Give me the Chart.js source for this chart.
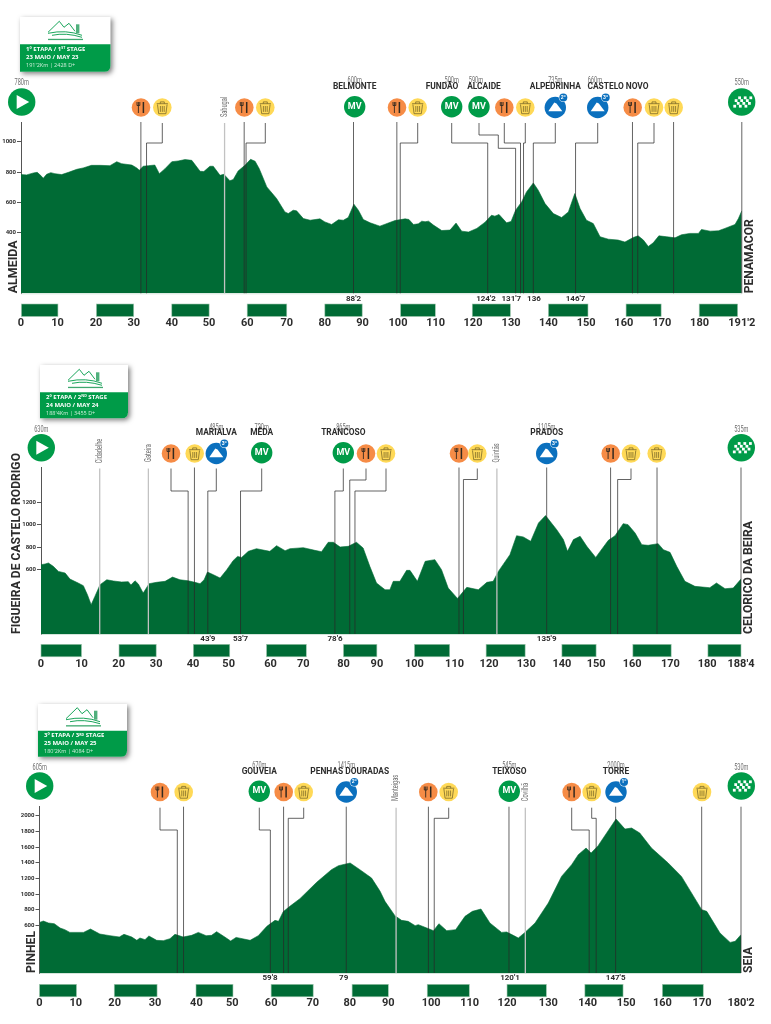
<!DOCTYPE html>
<html>
<head>
<meta charset="utf-8">
<title>Stage profiles</title>
<script src="https://cdn.jsdelivr.net/npm/chart.js@4"></script>
<style>
  html, body { margin: 0; padding: 0; background: #fff; }
  #page { position: relative; width: 771px; height: 1024px; overflow: hidden; }
  canvas { position: absolute; left: 0; }
</style>
</head>
<body>
<div id="page">
  <canvas id="stage1" width="771" height="340" style="top:0"></canvas>
  <canvas id="stage2" width="771" height="340" style="top:340px"></canvas>
  <canvas id="stage3" width="771" height="344" style="top:680px"></canvas>
</div>
<script>
// Stage 1 - Almeida to Penamacor
const stage1Km = [0, 1.5, 3.3, 4.3, 5.2, 5.9, 6.8, 7.9, 9, 10.8, 12.6, 14.8, 16.5, 18.7, 21, 23.6, 25.4, 26.7, 29.4, 30.7, 31.4, 32.4, 33.8, 35.5, 36.7, 38.2, 40, 41.7, 43.5, 45.3, 47.5, 48.5, 50.1, 51, 52.8, 53.8, 55.4, 56.3, 57.6, 59.4, 60.9, 62.1, 63.2, 65.2, 67.8, 70, 70.9, 72.2, 73.1, 74.9, 76.7, 79.3, 80.6, 82.4, 84.2, 85.5, 86.8, 88.3, 89.5, 90.8, 92.6, 95.2, 96.6, 99.2, 101.9, 102.9, 104.1, 105.4, 106.3, 107.2, 108.1, 109.4, 111.6, 113.8, 115.4, 116.9, 118.7, 120.9, 123.1, 124.8, 125.7, 126.8, 128.8, 130, 131.2, 132.8, 134.1, 135.9, 137.2, 139, 141.2, 143.4, 145.2, 146.9, 148.3, 150, 151.8, 153.6, 155.8, 158.4, 160.2, 162.4, 163.7, 165.1, 166.4, 167.7, 169.2, 171.3, 173.5, 175.2, 177.4, 179.7, 180.5, 182.8, 185, 186.7, 189.4, 190.3, 191.2];
const stage1Elevation = [783, 781, 794, 798, 778, 759, 785, 796, 789, 783, 798, 818, 827, 844, 844, 842, 868, 855, 846, 827, 811, 838, 842, 846, 789, 822, 868, 873, 882, 877, 805, 803, 838, 838, 778, 785, 743, 750, 807, 844, 884, 871, 822, 702, 625, 537, 526, 548, 544, 493, 482, 491, 471, 454, 485, 482, 500, 588, 548, 487, 465, 443, 456, 480, 491, 487, 454, 458, 476, 472, 476, 450, 414, 417, 463, 410, 404, 428, 469, 515, 509, 520, 465, 474, 548, 603, 669, 728, 680, 592, 526, 500, 537, 658, 559, 482, 460, 373, 357, 351, 338, 368, 379, 351, 309, 333, 379, 373, 366, 386, 395, 395, 421, 410, 412, 428, 454, 493, 544];
const stage1ElevTicks = [400, 600, 800, 1000];
const stage1TickAt = [0, 9.7, 19.9, 29.9, 40, 49.9, 60, 70.5, 80.6, 90.6, 100, 110, 119.9, 130, 139.9, 149.9, 159.9, 170, 180, 191.2];
const stage1TickLabels = ['0', '10', '20', '30', '40', '50', '60', '70', '80', '90', '100', '110', '120', '130', '140', '150', '160', '170', '180', "191'2"];
const stage1BarFrom = [0.1, 20, 40, 60, 80.6, 100.7, 119.7, 139.9, 160.5, 179.9];
const stage1BarTo = [9.8, 29.9, 49.9, 70.5, 90.5, 109.9, 129.8, 150.4, 169.8, 190.1];
const stage1StopKm = [0, 31.8, 33.3, 54, 59.2, 59.7, 88.2, 99.7, 100.6, 123.8, 131.2, 132.5, 133.3, 135.9, 147.1, 162.2, 163.6, 173.1, 191.2];
const stage1StopType = ['start', 'food', 'trash', 'town', 'food', 'trash', 'mv', 'food', 'trash', 'mv', 'mv', 'food', 'trash', 'climb', 'climb', 'food', 'trash', 'trash', 'finish'];
const stage1StopName = ['', '', '', 'Sabugal', '', '', 'BELMONTE', '', '', 'FUNDÃO', 'ALCAIDE', '', '', 'ALPEDRINHA', 'CASTELO NOVO', '', '', '', ''];
const stage1StopAlt = ['780m', '', '', '', '', '', '600m', '', '', '500m', '590m', '', '', '735m', '660m', '', '', '', '550m'];
const stage1StopMark = ['', '', '', '', '', '', "88'2", '', '', "124'2", "131'7", '', '', '136', "146'7", '', '', '', ''];
const stage1StopBadge = ['', '', '', '', '', '', '', '', '', '', '', '', '', '2º', '3º', '', '', '', ''];
const stage1Card = ['1º ETAPA / 1', 'ST', ' STAGE', '23 MAIO / MAY 23', "191'2Km | 2428 D+"];

// Stage 2 - Figueira de Castelo Rodrigo to Celorico da Beira
const stage2Km = [0, 1.1, 2, 3.3, 4.7, 6.5, 7.8, 10, 11.4, 12.5, 13.5, 14.5, 15.9, 17.7, 19.5, 21.7, 23.5, 24.2, 25.3, 26.2, 27.5, 29.1, 31.1, 33.4, 35.4, 37.4, 39.6, 41.4, 42.8, 43.9, 44.8, 46.4, 48.2, 50, 51.7, 52.9, 54, 55.8, 58, 61.6, 63.4, 65.7, 67, 70.6, 73.7, 75.5, 77.3, 78.7, 80.5, 82.7, 84.9, 86.7, 88.5, 90.3, 92.6, 93.9, 94.8, 96.6, 98.4, 99.3, 101.3, 103.4, 106, 107.8, 109.6, 112.1, 114.6, 117.7, 120, 121.7, 123.1, 126.2, 128, 129.8, 131.8, 133.9, 135.8, 138.8, 140.6, 141.7, 143.3, 145.1, 146.9, 149.3, 152.7, 154.5, 156.7, 158, 159.9, 161.7, 163.4, 166.1, 167.5, 169.3, 171.1, 173.3, 176, 180, 181.8, 184.1, 186.3, 188.4];
const stage2Elevation = [645, 651, 660, 630, 585, 570, 516, 481, 457, 376, 287, 361, 466, 510, 499, 490, 493, 463, 501, 472, 391, 475, 487, 496, 534, 510, 501, 487, 475, 510, 579, 555, 525, 600, 681, 719, 710, 764, 788, 764, 815, 770, 788, 797, 773, 761, 845, 845, 803, 809, 845, 794, 630, 481, 421, 421, 496, 496, 594, 594, 496, 675, 690, 600, 436, 343, 442, 421, 487, 496, 585, 734, 904, 893, 854, 1018, 1084, 958, 869, 764, 869, 899, 809, 710, 863, 904, 1012, 1003, 928, 824, 818, 833, 779, 755, 630, 496, 451, 439, 481, 430, 436, 516];
const stage2ElevTicks = [600, 800, 1000, 1200];
const stage2TickAt = [0, 10.9, 20.9, 31, 40.9, 50.5, 61.8, 70.6, 81.4, 90.4, 100.5, 111.3, 120.6, 130.6, 140.2, 149.4, 159.1, 169.4, 179.3, 188.4];
const stage2TickLabels = ['0', '10', '20', '30', '40', '50', '60', '70', '80', '90', '100', '110', '120', '130', '140', '150', '160', '170', '180', "188'4"];
const stage2BarFrom = [0, 21, 41, 60.7, 81.4, 100.5, 119.8, 140.2, 159.3, 179.5];
const stage2BarTo = [10.9, 31, 50.8, 71.4, 90.4, 110, 130.3, 149.4, 169.6, 188.4];
const stage2StopKm = [0, 15.8, 28.9, 39.6, 41.3, 44.9, 53.7, 79.1, 83.1, 84.5, 112.5, 113.7, 122.7, 136.1, 153.3, 155.2, 165.8, 188.4];
const stage2StopType = ['start', 'town', 'town', 'food', 'trash', 'climb', 'mv', 'mv', 'food', 'trash', 'food', 'trash', 'town', 'climb', 'food', 'trash', 'trash', 'finish'];
const stage2StopName = ['', 'Cidadelhe', 'Gateira', '', '', 'MARIALVA', 'MÊDA', 'TRANCOSO', '', '', '', '', 'Quintãs', 'PRADOS', '', '', '', ''];
const stage2StopAlt = ['630m', '', '', '', '', '485m', '720m', '865m', '', '', '', '', '', '1105m', '', '', '', '535m'];
const stage2StopMark = ['', '', '', '', '', "43'9", "53'7", "78'6", '', '', '', '', '', "135'9", '', '', '', ''];
const stage2StopBadge = ['', '', '', '', '', '3º', '', '', '', '', '', '', '', '3º', '', '', '', ''];
const stage2Card = ['2º ETAPA / 2', 'ND', ' STAGE', '24 MAIO / MAY 24', "188'4Km | 3455 D+"];

// Stage 3 - Pinhel to Seia
const stage3Km = [0, 1, 2.3, 3.8, 5.3, 6.5, 7.8, 11.3, 13.1, 15.5, 18.1, 20.5, 21.7, 23.7, 25, 25.8, 27.1, 28.1, 30.1, 31.8, 33.5, 34.8, 36.9, 39.1, 40.8, 42.8, 44.2, 45.5, 47.6, 49.1, 50.5, 54.1, 56.2, 58.4, 60.5, 61.4, 62.6, 64.3, 66.9, 71.2, 75, 76.8, 79.8, 82.3, 85.3, 87.5, 88.75, 91.3, 93, 94.7, 96.5, 97.3, 99.5, 101.2, 102.6, 104.6, 106.9, 109.3, 111.2, 113.4, 115.7, 118.7, 120, 121.7, 123, 124.7, 127.3, 130.7, 134.1, 136.7, 138.4, 140.4, 141.7, 143.5, 148.1, 150.4, 152.1, 154.2, 157.2, 161.5, 164.9, 170.1, 171.4, 174.8, 177.4, 178.7, 180.2];
const stage3Elevation = [638, 655, 630, 621, 566, 545, 510, 510, 553, 489, 468, 451, 485, 451, 408, 438, 417, 464, 408, 404, 429, 485, 451, 472, 510, 468, 472, 519, 451, 400, 446, 408, 468, 587, 664, 651, 775, 843, 942, 1151, 1313, 1364, 1398, 1313, 1206, 1035, 907, 724, 664, 651, 596, 609, 566, 532, 621, 532, 545, 715, 779, 809, 630, 510, 515, 472, 438, 510, 630, 886, 1227, 1377, 1505, 1590, 1526, 1620, 1961, 1833, 1846, 1782, 1590, 1398, 1227, 801, 779, 502, 382, 395, 481];
const stage3ElevTicks = [600, 800, 1000, 1200, 1400, 1600, 1800, 2000];
const stage3TickAt = [0, 9.3, 19.3, 29.7, 40.3, 49.5, 59.5, 70.2, 79.7, 89.6, 100.6, 110.5, 120.1, 130.7, 140.8, 150.7, 160, 170.2, 180.2];
const stage3TickLabels = ['0', '10', '20', '30', '40', '50', '60', '70', '80', '90', '100', '110', '120', '130', '140', '150', '160', '170', "180'2"];
const stage3BarFrom = [0, 19.2, 40.2, 59.5, 80.3, 99.6, 120.1, 140.1, 160];
const stage3BarTo = [9.5, 30.2, 49.7, 70.3, 89.6, 110.4, 130.2, 149.9, 170.5];
const stage3StopKm = [0, 35.4, 37, 59.3, 62.7, 63.9, 78.8, 91.6, 99.9, 101.4, 120.6, 124.8, 141.2, 143, 148, 170.1, 180.2];
const stage3StopType = ['start', 'food', 'trash', 'mv', 'food', 'trash', 'climb', 'town', 'food', 'trash', 'mv', 'town', 'food', 'trash', 'climb', 'trash', 'finish'];
const stage3StopName = ['', '', '', 'GOUVEIA', '', '', 'PENHAS DOURADAS', 'Manteigas', '', '', 'TEIXOSO', 'Covilhã', '', '', 'TORRE', '', ''];
const stage3StopAlt = ['605m', '', '', '670m', '', '', '1415m', '', '', '', '545m', '', '', '', '2000m', '', '530m'];
const stage3StopMark = ['', '', '', "59'8", '', '', '79', '', '', '', "120'1", '', '', '', "147'5", '', ''];
const stage3StopBadge = ['', '', '', '', '', '', '2º', '', '', '', '', '', '', '', '1º', '', ''];
const stage3Card = ['3º ETAPA / 3', 'RD', ' STAGE', '25 MAIO / MAY 25', "180'2Km | 4084 D+"];

// Where the icons and leader lines sit on the page (px), same order as the stops.
// route is [y] for one elbow, or [y, x, y2] when the line steps twice
const stage1Layout = [
  { x: 21.7 }, { x: 141 }, { x: 162.3, route: [143] }, { x: 224.5, textY: 107 }, { x: 244.3 },
  { x: 265.3, route: [143] }, { x: 354.7 }, { x: 397 }, { x: 417.7, route: [143] },
  { x: 451.7, route: [143], nameX: 442, markX: 486 }, { x: 479, route: [135, 498.3, 148.3], nameX: 484, altX: 476, markX: 511.3 },
  { x: 504.3, route: [143] }, { x: 525.3, route: [143] }, { x: 555.3, route: [143], markX: 534 },
  { x: 597.7, route: [143], nameX: 618, altX: 595 }, { x: 632.7 }, { x: 654, route: [143] }, { x: 673.7 }, { x: 741.7 }
];
const stage2Layout = [
  { x: 41.3 }, { x: 99.7, textY: 451 }, { x: 148.3, textY: 453 }, { x: 171, route: [491] }, { x: 194.7 },
  { x: 216.3, route: [491] }, { x: 261.7, route: [491] }, { x: 343.3, route: [491], markX: 335 },
  { x: 366, route: [480] }, { x: 386, route: [491] }, { x: 459 }, { x: 477.3, route: [479.5] },
  { x: 496.7, textY: 453 }, { x: 546.7 }, { x: 610.7 }, { x: 631, route: [479.5] }, { x: 656.7 }, { x: 741.3 }
];
const stage3Layout = [
  { x: 39.7 }, { x: 160, route: [830] }, { x: 183.7 }, { x: 259.3, route: [830], markX: 270 }, { x: 283.7 },
  { x: 303.7, route: [818.3] }, { x: 346.3, nameX: 349.7, markX: 343.7 }, { x: 396, textY: 788 }, { x: 428.3 },
  { x: 448.7, route: [818.3] }, { x: 509.3, markX: 510 }, { x: 525.3, textY: 792 }, { x: 571.7, route: [830] },
  { x: 591.7, route: [818.3] }, { x: 616 }, { x: 702 }, { x: 741.3 }
];

const stages = [
  {
    id: 'stage1', top: 0, left: 21, right: 741.8, base: 293.3, lineY: 122, yMin: 0, yMax: 1130,
    km: stage1Km, elevation: stage1Elevation, elevTicks: stage1ElevTicks, tickAt: stage1TickAt, tickLabels: stage1TickLabels,
    barFrom: stage1BarFrom, barTo: stage1BarTo, stopKm: stage1StopKm, stopType: stage1StopType, stopName: stage1StopName,
    stopAlt: stage1StopAlt, stopMark: stage1StopMark, stopBadge: stage1StopBadge, layout: stage1Layout, cardText: stage1Card,
    iconY: 107.5, startY: 102, nameY: 87, altY: 80.5, markY: 298.5, barY: 304,
    card: { x: 20, y: 17, w: 90.5, split: 44.3, bottom: 71.7 },
    from: { text: 'ALMEIDA', x: 13.5, len: 53 }, to: { text: 'PENAMACOR', x: 749.5, len: 74 }
  },
  {
    id: 'stage2', top: 340, left: 41, right: 741, base: 634, lineY: 467.5, yMin: 25, yMax: 1514,
    km: stage2Km, elevation: stage2Elevation, elevTicks: stage2ElevTicks, tickAt: stage2TickAt, tickLabels: stage2TickLabels,
    barFrom: stage2BarFrom, barTo: stage2BarTo, stopKm: stage2StopKm, stopType: stage2StopType, stopName: stage2StopName,
    stopAlt: stage2StopAlt, stopMark: stage2StopMark, stopBadge: stage2StopBadge, layout: stage2Layout, cardText: stage2Card,
    iconY: 453.5, startY: 447.7, nameY: 433.3, altY: 427.5, markY: 639, barY: 644.3,
    card: { x: 40, y: 365, w: 88, split: 392.3, bottom: 418.3 },
    from: { text: 'FIGUEIRA DE CASTELO RODRIGO', x: 17, len: 181 }, to: { text: 'CELORICO DA BEIRA', x: 749, len: 113 }
  },
  {
    id: 'stage3', top: 680, left: 39.5, right: 741, base: 973, lineY: 806.7, yMin: -10, yMax: 2119,
    km: stage3Km, elevation: stage3Elevation, elevTicks: stage3ElevTicks, tickAt: stage3TickAt, tickLabels: stage3TickLabels,
    barFrom: stage3BarFrom, barTo: stage3BarTo, stopKm: stage3StopKm, stopType: stage3StopType, stopName: stage3StopName,
    stopAlt: stage3StopAlt, stopMark: stage3StopMark, stopBadge: stage3StopBadge, layout: stage3Layout, cardText: stage3Card,
    iconY: 792, startY: 786, nameY: 772, altY: 765.7, markY: 978.3, barY: 984.3,
    card: { x: 38, y: 704, w: 89, split: 730.7, bottom: 756.7 },
    from: { text: 'PINHEL', x: 31.7, len: 42 }, to: { text: 'SEIA', x: 749.3, len: 26 }
  }
];

const GREEN_DARK = '#006b35';
const GREEN = '#009b48';
const INK = '#2d2d2d';

function centerText(ctx, text, x, y, font, color) {
  ctx.font = font;
  ctx.fillStyle = color;
  ctx.textAlign = 'center';
  ctx.textBaseline = 'middle';
  ctx.fillText(text, x, y);
}

// Thin squeezed grey text used for altitudes and small towns
function narrowText(ctx, text, x, y, rotated) {
  ctx.save();
  ctx.translate(x, y);
  if (rotated) ctx.rotate(-Math.PI / 2);
  ctx.scale(0.62, 1);
  centerText(ctx, text, 0, 0, '9px Roboto, sans-serif', '#6e6e6e');
  ctx.restore();
}

// Place names on both sides, stretched to the length they have in the poster
function sideLabel(ctx, label, base) {
  ctx.save();
  ctx.translate(label.x, base);
  ctx.rotate(-Math.PI / 2);
  ctx.font = 'bold 12.5px Roboto, sans-serif';
  ctx.scale(label.len / ctx.measureText(label.text).width, 1);
  ctx.fillStyle = INK;
  ctx.textAlign = 'left';
  ctx.textBaseline = 'middle';
  ctx.fillText(label.text, 0, 0);
  ctx.restore();
}

function disc(ctx, x, y, r, color) {
  ctx.beginPath();
  ctx.arc(x, y, r, 0, Math.PI * 2);
  ctx.fillStyle = color;
  ctx.fill();
}

function drawFood(ctx, x, y) {
  disc(ctx, x, y, 9.3, '#f68c46');
  ctx.strokeStyle = '#33291f';
  ctx.lineWidth = 0.9;
  ctx.beginPath();
  ctx.moveTo(x - 2.6, y - 5.5);
  ctx.lineTo(x - 2.6, y + 5.5);
  ctx.moveTo(x - 4, y - 5.5);
  ctx.lineTo(x - 4, y - 2);
  ctx.lineTo(x - 1.2, y - 2);
  ctx.lineTo(x - 1.2, y - 5.5);
  ctx.stroke();
  ctx.lineWidth = 1.5;
  ctx.beginPath();
  ctx.moveTo(x + 2.4, y - 5.5);
  ctx.lineTo(x + 2.4, y + 5.5);
  ctx.stroke();
}

function drawTrash(ctx, x, y) {
  disc(ctx, x, y, 9.3, '#ffd957');
  ctx.strokeStyle = '#7c6a28';
  ctx.lineWidth = 0.8;
  ctx.beginPath();
  ctx.moveTo(x - 5.6, y - 3.8);
  ctx.lineTo(x + 5.6, y - 3.8);
  ctx.moveTo(x - 2, y - 3.8);
  ctx.lineTo(x - 2, y - 5.6);
  ctx.lineTo(x + 2, y - 5.6);
  ctx.lineTo(x + 2, y - 3.8);
  ctx.moveTo(x - 4.8, y - 3);
  ctx.lineTo(x - 3.6, y + 6.2);
  ctx.lineTo(x + 3.6, y + 6.2);
  ctx.lineTo(x + 4.8, y - 3);
  for (const dx of [-1.9, 0, 1.9]) {
    ctx.moveTo(x + dx, y - 1.5);
    ctx.lineTo(x + dx, y + 4.4);
  }
  ctx.stroke();
}

function drawClimb(ctx, x, y, badge) {
  disc(ctx, x, y, 10.7, '#0b70be');
  ctx.fillStyle = '#fff';
  ctx.beginPath();
  ctx.moveTo(x - 7, y + 3.8);
  ctx.lineTo(x - 1, y - 5);
  ctx.lineTo(x + 1.2, y - 4);
  ctx.lineTo(x + 7, y + 3.8);
  ctx.closePath();
  ctx.fill();
  disc(ctx, x + 8, y - 10, 4.6, '#fff');
  disc(ctx, x + 8, y - 10, 4, '#0b70be');
  centerText(ctx, badge, x + 8, y - 9.8, 'bold 5px Roboto, sans-serif', '#fff');
}

function drawFinish(ctx, x, y) {
  disc(ctx, x, y, 13.7, GREEN);
  ctx.fillStyle = '#fff';
  for (let row = 0; row < 4; row++) {
    for (let col = 0; col < 6; col++) {
      if ((row + col) % 2 === 0) continue;
      ctx.fillRect(x - 8.4 + col * 2.8 + (3 - row) * 0.7, y - 5.6 + row * 2.8, 2.8, 2.8);
    }
  }
}

function drawStart(ctx, x, y) {
  disc(ctx, x, y, 13.7, GREEN);
  ctx.fillStyle = '#fff';
  ctx.beginPath();
  ctx.moveTo(x - 5, y - 7);
  ctx.lineTo(x + 7.5, y);
  ctx.lineTo(x - 5, y + 7);
  ctx.closePath();
  ctx.fill();
}

// Card with the small race logo and the stage summary
function drawCard(ctx, stage) {
  const c = stage.card;
  const t = stage.cardText;
  const right = c.x + c.w;
  ctx.save();
  ctx.shadowColor = 'rgba(0,0,0,0.5)';
  ctx.shadowBlur = 5;
  ctx.shadowOffsetX = 2;
  ctx.shadowOffsetY = 2;
  ctx.fillStyle = '#fff';
  ctx.beginPath();
  ctx.moveTo(c.x, c.y);
  ctx.lineTo(right, c.y);
  ctx.lineTo(right, c.bottom - 6);
  ctx.quadraticCurveTo(right, c.bottom, right - 6, c.bottom);
  ctx.lineTo(c.x, c.bottom);
  ctx.closePath();
  ctx.fill();
  ctx.restore();
  ctx.fillStyle = GREEN;
  ctx.beginPath();
  ctx.moveTo(c.x, c.split);
  ctx.lineTo(right, c.split);
  ctx.lineTo(right, c.bottom - 6);
  ctx.quadraticCurveTo(right, c.bottom, right - 6, c.bottom);
  ctx.lineTo(c.x, c.bottom);
  ctx.closePath();
  ctx.fill();

  // logo
  const lx = c.x + 28;
  const ly = c.split - 24;
  ctx.strokeStyle = GREEN;
  ctx.lineWidth = 0.9;
  ctx.beginPath();
  ctx.moveTo(lx, ly + 12);
  ctx.lineTo(lx + 11.3, ly + 1);
  ctx.lineTo(lx + 16, ly + 7);
  ctx.lineTo(lx + 21, ly + 3);
  ctx.lineTo(lx + 27, ly + 11);
  ctx.moveTo(lx, ly + 13);
  ctx.quadraticCurveTo(lx + 18, ly + 9, lx + 34, ly + 15);
  ctx.moveTo(lx + 4, ly + 15);
  ctx.quadraticCurveTo(lx + 18, ly + 12, lx + 34, ly + 17);
  ctx.stroke();
  ctx.fillStyle = '#4fb07c';
  ctx.fillRect(lx + 28, ly + 4, 3.4, 9);
  ctx.fillStyle = '#3ea86f';
  ctx.fillRect(lx, ly + 18.5, 35, 1.3);

  // summary lines
  const tx = c.x + 6;
  const lineY = [c.split + 5, c.split + 12.7, c.split + 20.7];
  const head = 'bold 6px "Open Sans", sans-serif';
  ctx.fillStyle = '#fff';
  ctx.textAlign = 'left';
  ctx.textBaseline = 'middle';
  ctx.font = head;
  ctx.fillText(t[0], tx, lineY[0]);
  let at = tx + ctx.measureText(t[0]).width;
  ctx.font = 'bold 3.6px "Open Sans", sans-serif';
  ctx.fillText(t[1], at, lineY[0] - 1.2);
  at += ctx.measureText(t[1]).width;
  ctx.font = head;
  ctx.fillText(t[2], at, lineY[0]);
  ctx.fillText(t[3], tx, lineY[1]);
  ctx.font = '5.5px "Open Sans", sans-serif';
  ctx.fillStyle = '#cdeeda';
  ctx.fillText(t[4], tx, lineY[2]);
}

function drawStops(ctx, stage, xScale) {
  stage.stopKm.forEach((km, i) => {
    const type = stage.stopType[i];
    const place = stage.layout[i];
    const lineX = xScale.getPixelForValue(km);

    if (type === 'town') {
      ctx.strokeStyle = '#c2c2c2';
      ctx.lineWidth = 1.3;
      ctx.beginPath();
      ctx.moveTo(lineX, stage.lineY + 1);
      ctx.lineTo(lineX, stage.base);
      ctx.stroke();
      narrowText(ctx, stage.stopName[i], place.x, place.textY, true);
      return;
    }

    if (type !== 'start') {
      ctx.strokeStyle = 'rgba(40,40,40,0.72)';
      ctx.lineWidth = 1;
      ctx.beginPath();
      if (place.route) {
        let y = place.route[0];
        ctx.moveTo(place.x, stage.lineY + 1);
        ctx.lineTo(place.x, y);
        if (place.route.length > 1) {
          ctx.lineTo(place.route[1], y);
          y = place.route[2];
          ctx.lineTo(place.route[1], y);
        }
        ctx.lineTo(lineX, y);
      } else {
        ctx.moveTo(lineX, stage.lineY);
      }
      ctx.lineTo(lineX, stage.base);
      ctx.stroke();
    }

    const iconY = stage.iconY;
    if (type === 'food') drawFood(ctx, place.x, iconY);
    if (type === 'trash') drawTrash(ctx, place.x, iconY);
    if (type === 'mv') {
      disc(ctx, place.x, iconY - 0.7, 10.7, GREEN);
      centerText(ctx, 'MV', place.x, iconY - 1, 'bold 9px Roboto, sans-serif', '#fff');
    }
    if (type === 'climb') drawClimb(ctx, place.x, iconY, stage.stopBadge[i]);
    if (type === 'start') drawStart(ctx, place.x, stage.startY);
    if (type === 'finish') drawFinish(ctx, place.x, stage.startY);

    if (stage.stopAlt[i]) {
      const altY = type === 'start' || type === 'finish' ? stage.altY + 2 : stage.altY;
      narrowText(ctx, stage.stopAlt[i], place.altX || place.x, altY, false);
    }
    if (stage.stopName[i]) {
      centerText(ctx, stage.stopName[i], place.nameX || place.x, stage.nameY, 'bold 8.4px Roboto, sans-serif', INK);
    }
    if (stage.stopMark[i]) {
      centerText(ctx, stage.stopMark[i], place.markX || lineX, stage.markY, 'bold 8px Roboto, sans-serif', INK);
    }
  });
}

// Draws everything around the profile in page coordinates
const posterPlugin = {
  id: 'poster',
  afterDatasetsDraw(chart, args, opts) {
    const stage = opts.stage;
    const ctx = chart.ctx;
    const xScale = chart.scales.x;
    ctx.save();
    ctx.translate(0, -stage.top);

    ctx.fillStyle = GREEN_DARK;
    ctx.strokeStyle = '#9ec7ae';
    ctx.lineWidth = 0.6;
    stage.barFrom.forEach((from, i) => {
      const x0 = xScale.getPixelForValue(from);
      const x1 = xScale.getPixelForValue(stage.barTo[i]);
      ctx.fillRect(x0, stage.barY, x1 - x0, 12.5);
      ctx.strokeRect(x0, stage.barY, x1 - x0, 12.5);
    });

    ctx.strokeStyle = '#b9d3c3';
    ctx.beginPath();
    ctx.moveTo(stage.left, stage.base + 0.5);
    ctx.lineTo(stage.right, stage.base + 0.5);
    ctx.stroke();

    drawStops(ctx, stage, xScale);
    drawCard(ctx, stage);
    sideLabel(ctx, stage.from, stage.base);
    sideLabel(ctx, stage.to, stage.base);
    ctx.restore();
  }
};

function renderStage(stage) {
  const canvas = document.getElementById(stage.id);
  new Chart(canvas, {
    type: 'line',
    data: {
      datasets: [{
        data: stage.km.map((km, i) => ({ x: km, y: stage.elevation[i] })),
        fill: 'start',
        backgroundColor: GREEN_DARK,
        borderColor: GREEN_DARK,
        borderWidth: 0.6,
        pointRadius: 0,
        tension: 0
      }]
    },
    plugins: [posterPlugin],
    options: {
      responsive: false,
      animation: false,
      layout: { padding: { top: stage.lineY - stage.top, right: 771 - stage.right, left: 0, bottom: 0 } },
      plugins: { legend: { display: false }, tooltip: { enabled: false }, poster: { stage } },
      scales: {
        x: {
          type: 'linear',
          min: 0,
          max: stage.km[stage.km.length - 1],
          grid: { display: false, drawTicks: false },
          border: { display: false },
          afterBuildTicks: scale => { scale.ticks = stage.tickAt.map(value => ({ value })); },
          afterFit: scale => {
            scale.height = canvas.height - (stage.base - stage.top);
            scale.paddingLeft = 0;
            scale.paddingRight = 0;
          },
          ticks: {
            autoSkip: false,
            maxRotation: 0,
            padding: 23.5,
            color: INK,
            font: { family: 'Roboto', size: 11, weight: 'bold' },
            callback: (value, i) => stage.tickLabels[i]
          }
        },
        y: {
          min: stage.yMin,
          max: stage.yMax,
          grid: { drawOnChartArea: false, tickLength: 4, color: '#555' },
          border: { display: true, color: '#555' },
          afterBuildTicks: scale => { scale.ticks = stage.elevTicks.map(value => ({ value })); },
          afterFit: scale => { scale.width = stage.left; },
          ticks: {
            padding: 1,
            color: INK,
            font: { family: 'Roboto', size: 6, weight: 'bold' },
            callback: value => String(value)
          }
        }
      }
    }
  });
}

stages.forEach(renderStage);
</script>
</body>
</html>
